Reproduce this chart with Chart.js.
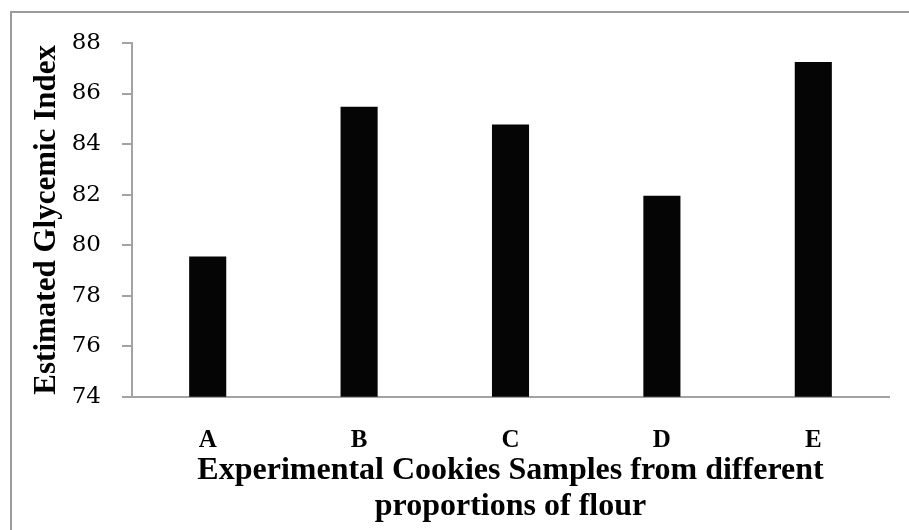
<!DOCTYPE html>
<html>
<head>
<meta charset="utf-8">
<script src="https://cdn.jsdelivr.net/npm/chart.js@4/dist/chart.umd.min.js"></script>
<style>
  html, body { margin: 0; padding: 0; background: #fff; overflow: hidden; }
  #wrap { position: relative; width: 909px; height: 530px; }
  #frame { position: absolute; left: 10px; top: 11px; width: 1000px; height: 600px;
           border-left: 2px solid #9c9c9c; border-top: 2px solid #9c9c9c; }
  #chart { position: absolute; left: 0; top: 0; }
</style>
</head>
<body>
<div id="wrap">
  <div id="frame"></div>
  <canvas id="chart" width="909" height="530"></canvas>
</div>
<script>
const samples = ['A', 'B', 'C', 'D', 'E'];
const glycemicIndex = [79.55, 85.48, 84.77, 81.95, 87.25];
const yMin = 74;
const yMax = 88;
const yStep = 2;
const yTitle = 'Estimated Glycemic Index';
const xTitle = ['Experimental Cookies Samples from different', 'proportions of flour'];

const axisGray = '#a3a3a3';

const ctx = document.getElementById('chart');

new Chart(ctx, {
  type: 'bar',
  data: {
    labels: samples,
    datasets: [{
      data: glycemicIndex,
      backgroundColor: '#050505',
      borderWidth: 0,
      barPercentage: 0.245,
      categoryPercentage: 1
    }]
  },
  options: {
    responsive: false,
    animation: false,
    layout: { padding: { top: 43, right: 20, left: 0, bottom: 0 } },
    plugins: {
      legend: { display: false },
      tooltip: { enabled: false }
    },
    scales: {
      x: {
        offset: true,
        grid: { display: false },
        border: { display: true, color: axisGray, width: 2 },
        ticks: {
          color: '#000',
          padding: 21,
          font: { family: 'Liberation Serif', size: 25, weight: 'bold' }
        },
        title: {
          display: true,
          text: xTitle,
          color: '#000',
          padding: { top: 0, bottom: 6 },
          font: { family: 'Liberation Serif', size: 32, weight: 'bold', lineHeight: 1.1 }
        },
        afterFit: function(scale) { scale.height = 133.3; }
      },
      y: {
        min: yMin,
        max: yMax,
        grid: {
          drawOnChartArea: false,
          drawTicks: true,
          tickLength: 10,
          color: axisGray,
          lineWidth: 2
        },
        border: { display: true, color: axisGray, width: 2 },
        ticks: {
          stepSize: yStep,
          color: '#000',
          padding: 21,
          font: { family: 'DejaVu Serif', size: 23 }
        },
        title: {
          display: true,
          text: yTitle,
          color: '#000',
          padding: { top: 28, bottom: 0 },
          font: { family: 'Liberation Serif', size: 31, weight: 'bold' }
        },
        afterFit: function(scale) { scale.width = 132; }
      }
    }
  }
});
</script>
</body>
</html>
